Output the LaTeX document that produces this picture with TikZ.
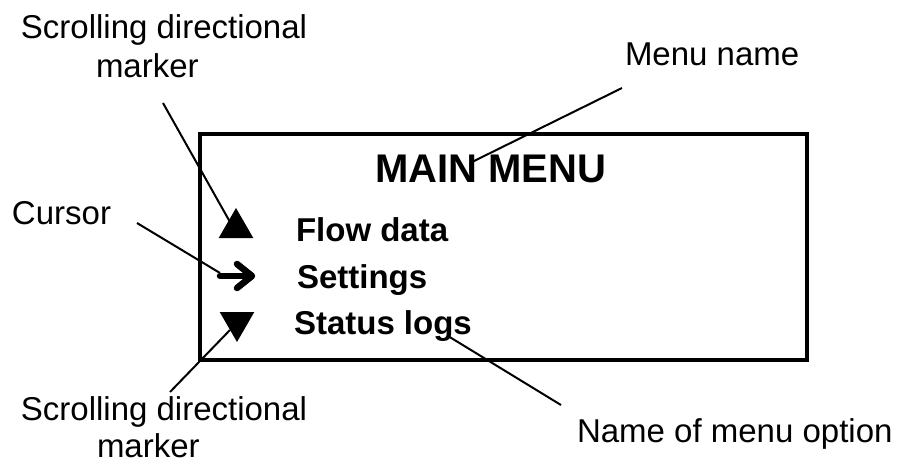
\documentclass[tikz,border=0pt]{standalone}
\usepackage{fontspec}
\setmainfont{Liberation Sans}
\usetikzlibrary{shapes.geometric}
\begin{document}
\begin{tikzpicture}[x=1pt,y=-1pt,
  lbl/.style={inner sep=0pt,outer sep=0pt,font=\fontsize{33}{38}\selectfont},
  item/.style={inner sep=0pt,outer sep=0pt,font=\fontsize{33}{38}\selectfont\bfseries},
  title/.style={inner sep=0pt,outer sep=0pt,font=\fontsize{40}{46}\selectfont\bfseries},
  callout/.style={line width=2pt,black},
  marker/.style={regular polygon,regular polygon sides=3,fill=black,inner sep=0pt,minimum size=40pt},
  cursorstroke/.style={line width=6.5pt,line cap=round,line join=round}
]
\useasboundingbox[fill=white] (0,0) rectangle (898,464);
% display box
\node[draw,line width=3.5pt,inner sep=0pt,minimum width=607pt,minimum height=226pt,anchor=north west] (box) at (198,132) {};
% texts
\node[title,anchor=base west] (mm) at (375,182) {MAIN MENU};
\node[item,anchor=base west] (flow) at (296,241) {Flow data};
\node[item,anchor=base west] (set) at (297,288) {Settings};
\node[item,anchor=base west] (stat) at (294,334) {Status logs};
% markers
\node[marker] (up) at (236,228) {};
\node[marker,shape border rotate=180] (down) at (237,322) {};
\node[inner sep=0pt,minimum width=38pt,minimum height=28pt] (cur) at (236,276) {};
\draw[cursorstroke] (220,276) -- (251,276);
\draw[cursorstroke] (237,264) -- (252,276) -- (237,288);
% labels
\node[lbl,anchor=base] (tsA) at (164,38) {Scrolling directional};
\node[lbl,anchor=base west] (tsB) at (96,77) {marker};
\node[lbl,anchor=base west] (mn) at (625,65) {Menu name};
\node[lbl,anchor=base west] (cu) at (12,224) {Cursor};
\node[lbl,anchor=base] (bsA) at (164,420) {Scrolling directional};
\node[lbl,anchor=base west] (bsB) at (97,457) {marker};
\node[lbl,anchor=base west] (nm) at (577,442) {Name of menu option};
% callout end coordinates
\coordinate (tsEnd) at (163,103);
\coordinate (upEnd) at (230,222);
\coordinate (mnEnd) at (622,88);
\coordinate (mmEnd) at (472,162);
\coordinate (cuEnd) at (137,223);
\coordinate (curEnd) at (220,273);
\coordinate (bsEnd) at (170,392);
\coordinate (downEnd) at (230,330);
\coordinate (nmEnd) at (561,405);
\coordinate (statEnd) at (448,336);
\draw[callout] (tsEnd) -- (upEnd);
\draw[callout] (mnEnd) -- (mmEnd);
\draw[callout] (cuEnd) -- (curEnd);
\draw[callout] (bsEnd) -- (downEnd);
\draw[callout] (nmEnd) -- (statEnd);
\end{tikzpicture}
\end{document}
